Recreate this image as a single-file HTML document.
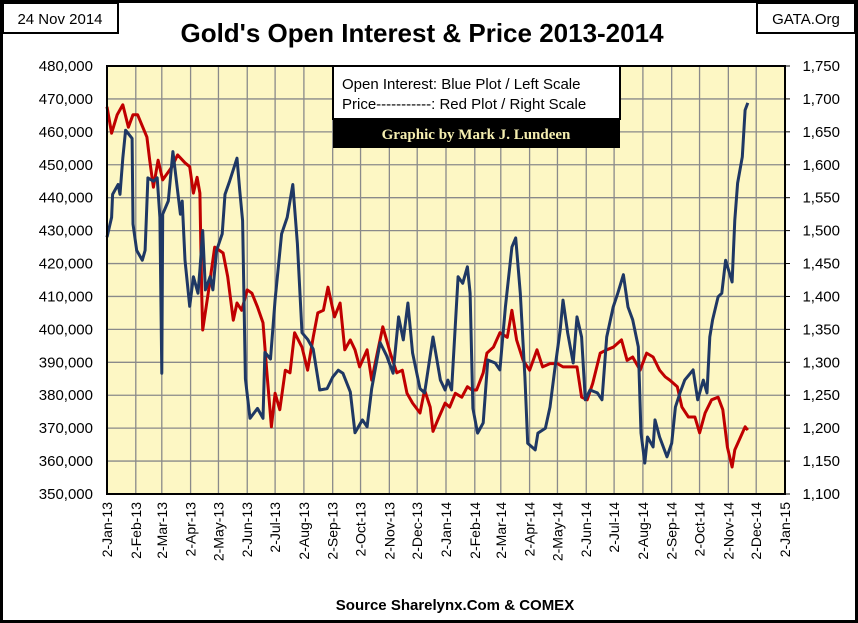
<!DOCTYPE html>
<html><head><meta charset="utf-8"><style>
body{margin:0;background:#fff}
svg{display:block;font-family:"Liberation Sans",sans-serif}
</style></head><body>
<svg id="c" width="858" height="623" xmlns="http://www.w3.org/2000/svg">
<rect x="1.5" y="1.5" width="855" height="620" fill="#fff" stroke="#000" stroke-width="3"/>
<rect x="107" y="66" width="678" height="428" fill="#fdf7c4"/>
<g id="grid"></g>
<g id="series"></g>
<rect x="107" y="66" width="678" height="428" fill="none" stroke="#000" stroke-width="2"/>
<g id="axes"></g>
<rect x="3" y="3" width="115" height="30" fill="#fff" stroke="#000" stroke-width="2"/>
<text x="60" y="24" font-size="15" text-anchor="middle">24 Nov 2014</text>
<rect x="757" y="3" width="98" height="30" fill="#fff" stroke="#000" stroke-width="2"/>
<text x="806" y="24" font-size="15" text-anchor="middle">GATA.Org</text>
<text x="422" y="42" font-size="26" font-weight="bold" text-anchor="middle">Gold's Open Interest &amp; Price 2013-2014</text>
<g>
<rect x="333" y="66" width="287" height="53" fill="#fff" stroke="#000" stroke-width="2"/>
<text x="342" y="89" font-size="15">Open Interest:  Blue Plot / Left Scale</text>
<text x="342" y="109" font-size="15">Price-----------: Red Plot / Right Scale</text>
<rect x="333" y="119" width="287" height="29" fill="#000"/>
<text x="476" y="139" font-size="15" font-weight="bold" fill="#f5eeb0" text-anchor="middle" font-family="Liberation Serif,serif">Graphic by Mark J. Lundeen</text>
</g>
<text x="455" y="610" font-size="15" font-weight="bold" text-anchor="middle">Source Sharelynx.Com &amp; COMEX</text>
</svg>
<script>
const oiDays=[0,5,6,12,14,17,20,27,28,32,38,41,44,50,54,57,59,60,66,71,79,81,84,89,93,98,100,103,106,111,114,118,124,127,132,140,143,146,149,154,162,168,170,176,181,188,194,200,205,210,216,222,229,237,243,249,254,262,267,275,280,285,294,301,308,314,319,324,329,337,342,351,359,364,367,371,378,383,388,391,394,399,405,410,418,423,429,436,440,445,450,453,461,464,472,477,482,488,491,496,502,506,511,515,520,528,533,538,545,550,556,561,566,572,575,579,582,588,590,595,603,608,612,617,622,631,636,642,646,649,652,658,662,666,673,676,679,684,687,690];
const oiValues=[428,434,441,444,441,452,460.5,458,432,424,421,424,446,445,446,434,386.7,435,439,454,435,439,421,407,416,411,418,430,412,416,412,424,429,441,445,452,442,433,385,373,376,373,393,391,409,429,434,444,426,399,397,394,381.6,382,385.5,387.6,386.7,381,368.6,372.5,370.4,382,396,392,386.7,403.8,396.8,408,392.8,382,380.7,397.7,384.6,381.6,384.6,381.6,416,414,419,411,376,368.5,371.6,390.7,389.8,387.7,406.8,425,427.8,411,385.6,365.4,363.4,368.5,370,376.4,387.7,399.8,408.9,398.9,389.8,403.8,397.7,378.6,381.6,380.7,378.6,397.7,406.8,411,416.6,406.8,402.9,394.7,368.5,359.4,367.3,364.3,372.5,367.3,361.3,365.4,376.4,380.7,384.6,387.7,378.6,384.6,380.7,397.7,402.9,409.9,411,421,414.4,433.2,444.4,452.4,466.6,468.8];
const priceDays=[0,5,11,17,23,28,33,43,46,50,55,60,70,76,84,89,93,97,100,102,103,109,116,125,130,136,140,145,151,156,162,168,172,177,181,186,192,197,202,210,216,222,227,233,238,245,251,256,262,267,272,280,285,291,297,305,312,318,323,329,337,342,348,351,356,364,369,375,382,388,393,398,405,409,416,423,431,436,441,448,455,463,469,477,485,491,499,506,511,517,523,531,538,545,554,560,566,574,581,588,595,601,606,614,619,626,633,638,644,651,658,663,668,673,676,682,687,690];
const priceValues=[1688,1648,1676,1691,1657,1676,1676,1642,1607,1566,1607,1577,1597,1615,1603,1597,1557,1581,1557,1405,1349,1405,1475,1466,1430,1364,1390,1379,1410,1405,1384,1360,1288,1202,1253,1228,1288,1284,1345,1323,1288,1338,1375,1379,1414,1369,1390,1319,1334,1319,1293,1319,1273,1314,1354,1314,1284,1288,1253,1238,1223,1258,1232,1195,1212,1238,1232,1253,1247,1263,1258,1258,1284,1314,1323,1345,1338,1379,1334,1303,1288,1319,1293,1298,1298,1293,1293,1293,1247,1243,1268,1314,1319,1323,1334,1303,1308,1288,1314,1308,1288,1278,1273,1263,1232,1217,1217,1193,1223,1243,1247,1228,1171,1141,1167,1186,1202,1197];
const leftTicks=[350,360,370,380,390,400,410,420,430,440,450,460,470,480];
const rightTicks=[1100,1150,1200,1250,1300,1350,1400,1450,1500,1550,1600,1650,1700,1750];
const monthNames=["Jan","Feb","Mar","Apr","May","Jun","Jul","Aug","Sep","Oct","Nov","Dec"];

const NS="http://www.w3.org/2000/svg";
const X0=107,X1=785,Y0=494,Y1=66,TOTAL=730;
const start=Date.UTC(2013,0,2);
const xS=d=>X0+d*(X1-X0)/TOTAL;
const yL=v=>Y0-(v-350)*(Y0-Y1)/130;
const yR=v=>Y0-(v-1100)*(Y0-Y1)/650;
function mk(tag,attrs,parent){const e=document.createElementNS(NS,tag);for(const k in attrs)e.setAttribute(k,attrs[k]);parent.appendChild(e);return e;}
const grid=document.getElementById('grid'),axes=document.getElementById('axes'),series=document.getElementById('series');
leftTicks.forEach((v,i)=>{
  const y=yL(v);
  const gl=mk('line',{x1:X0,x2:X1,y1:y,y2:y,stroke:'#8a8a8a','stroke-width':1.3},grid);
  
  
  const t=mk('text',{x:93,y:y+5,'font-size':15,'text-anchor':'end'},axes);
  t.textContent=v+',000';
  
  
});
rightTicks.forEach(v=>{
  const y=yR(v);
  const t=mk('text',{x:840,y:y+5,'font-size':15,'text-anchor':'end'},axes);
  t.textContent=String(v).replace(/(\d)(\d{3})$/,'$1,$2');
  
  
  const tk=mk('line',{x1:X1,x2:X1+5,y1:y,y2:y,stroke:'#000'},axes);
  
  
});
for(let m=0;m<=24;m++){
  const yr=2013+Math.floor(m/12),mo=m%12;
  const d=(Date.UTC(yr,mo,2)-start)/86400000;
  const x=xS(d);
  const gl=mk('line',{x1:x,x2:x,y1:Y1,y2:Y0,stroke:'#8a8a8a','stroke-width':1.3},grid);
  
  
  const t=mk('text',{transform:`translate(${x+5},502) rotate(-90)`,'font-size':14,'text-anchor':'end'},axes);
  t.textContent='2-'+monthNames[mo]+'-'+String(yr).slice(2);
  
  
}
const pr=mk('polyline',{points:priceDays.map((d,i)=>xS(d).toFixed(1)+','+yR(priceValues[i]).toFixed(1)).join(' '),fill:'none',stroke:'#c00000','stroke-width':3,'stroke-linejoin':'round'},series);


const oi=mk('polyline',{points:oiDays.map((d,i)=>xS(d).toFixed(1)+','+yL(oiValues[i]).toFixed(1)).join(' '),fill:'none',stroke:'#1f3864','stroke-width':3,'stroke-linejoin':'round'},series);


</script>
</body></html>
